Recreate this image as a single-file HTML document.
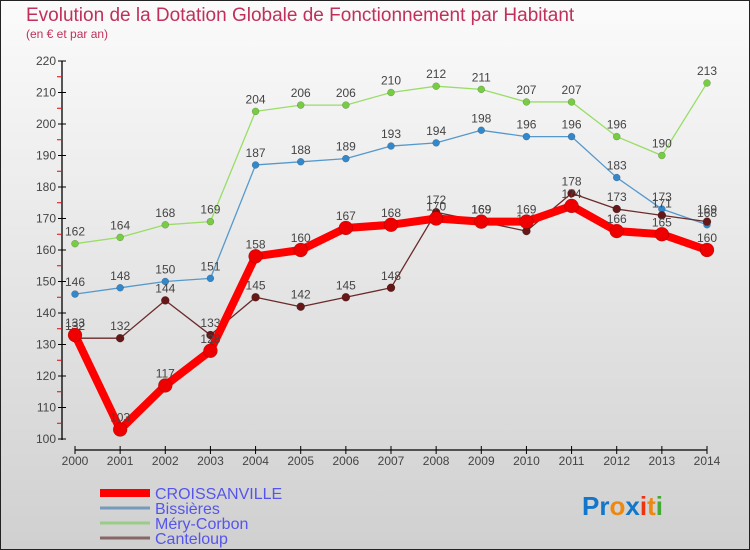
<!DOCTYPE html>
<html><head><meta charset="utf-8"><style>
body{margin:0}
#c{width:750px;height:550px;position:relative;box-sizing:border-box;border:1px solid #222;background:linear-gradient(#fbfbfb,#d0d0d0);font-family:"Liberation Sans",sans-serif;overflow:hidden}
</style></head><body>
<div id="c">
<svg id="s" width="750" height="550" style="position:absolute;left:-1px;top:-1px">
<text x="26" y="21" font-size="19" fill="#c0305a">Evolution de la Dotation Globale de Fonctionnement par Habitant</text>
<text x="26" y="38" font-size="12" fill="#c0305a">(en € et par an)</text>
<g id="ax"></g><g id="ser"></g>
<g>
<line x1="100" y1="493" x2="150" y2="493" stroke="#f00" stroke-width="8"/>
<text x="155" y="499" font-size="16" fill="#5555ee">CROISSANVILLE</text>
<line x1="100" y1="508" x2="150" y2="508" stroke="#7799bb" stroke-width="3"/>
<text x="155" y="514" font-size="16" fill="#5555ee">Bissières</text>
<line x1="100" y1="523" x2="150" y2="523" stroke="#99cc88" stroke-width="3"/>
<text x="155" y="529" font-size="16" fill="#5555ee">Méry-Corbon</text>
<line x1="100" y1="538" x2="150" y2="538" stroke="#886666" stroke-width="3"/>
<text x="155" y="544" font-size="16" fill="#5555ee">Canteloup</text>
</g>
<text x="582" y="515" font-size="26" font-weight="bold"><tspan fill="#1177cc">Pr</tspan><tspan fill="#ee8811">o</tspan><tspan fill="#1177cc">x</tspan><tspan fill="#ee3311">i</tspan><tspan fill="#ee8811">t</tspan><tspan fill="#44aa33">i</tspan></text>
</svg>
</div>
<script>
const years=[2000,2001,2002,2003,2004,2005,2006,2007,2008,2009,2010,2011,2012,2013,2014];
const yTicks=[100,110,120,130,140,150,160,170,180,190,200,210,220];
const croissanville=[133,103,117,128,158,160,167,168,170,169,169,174,166,165,160];
const bissieres=[146,148,150,151,187,188,189,193,194,198,196,196,183,173,168];
const mery=[162,164,168,169,204,206,206,210,212,211,207,207,196,190,213];
const canteloup=[132,132,144,133,145,142,145,148,172,169,166,178,173,171,169];
const NS="http://www.w3.org/2000/svg";
const X=i=>75+i*(707-75)/14;
const Y=v=>439-(v-100)*(439-61)/120;
function mk(t,a,p){const e=document.createElementNS(NS,t);for(const k in a)e.setAttribute(k,a[k]);p.appendChild(e);return e;}
const ax=document.getElementById('ax');
const yl=mk('line',{x1:62,y1:61,x2:62,y2:440,stroke:'#000','stroke-width':1.3},ax);


yTicks.forEach((v,i)=>{
 mk('line',{x1:58,y1:Y(v),x2:66,y2:Y(v),stroke:'#000'},ax);
 if(i<yTicks.length-1)mk('line',{x1:57,y1:Y(v+5),x2:61,y2:Y(v+5),stroke:'#e00'},ax);
 const t=mk('text',{x:56,y:Y(v)+4,'font-size':12,fill:'#444','text-anchor':'end'},ax);t.textContent=v;
 
 
});
const xl=mk('line',{x1:75,y1:450,x2:707,y2:450,stroke:'#000','stroke-width':1.3},ax);


years.forEach((y,i)=>{
 mk('line',{x1:X(i),y1:446,x2:X(i),y2:454,stroke:'#000'},ax);
 const t=mk('text',{x:X(i),y:465,'font-size':12,fill:'#444','text-anchor':'middle'},ax);t.textContent=y;
 
 
});
const ser=document.getElementById('ser');
function draw(vals,name,color,dot,w,r){
 const g=mk('g',{},ser);
 
 
 mk('polyline',{points:vals.map((v,i)=>X(i)+','+Y(v)).join(' '),fill:'none',stroke:color,'stroke-width':w,'stroke-linejoin':'round'},g);
 vals.forEach((v,i)=>{
  const c=mk('circle',{cx:X(i),cy:Y(v),r:r,fill:dot,stroke:'rgba(0,0,0,0.3)','stroke-width':0.5},g);
  
  
  const t=mk('text',{x:X(i),y:Y(v)-8,'font-size':12,fill:'#444','text-anchor':'middle'},g);t.textContent=v;
  
  
 });
}
draw(mery,'mery-corbon','#99dd66','#77cc44',1.3,3.5);
draw(bissieres,'bissieres','#5599cc','#3388cc',1.3,3.5);
draw(canteloup,'canteloup','#6b2a2a','#661818',1.3,4);
draw(croissanville,'croissanville','#ff0000','#ee0000',8,7);
</script>
</body></html>
